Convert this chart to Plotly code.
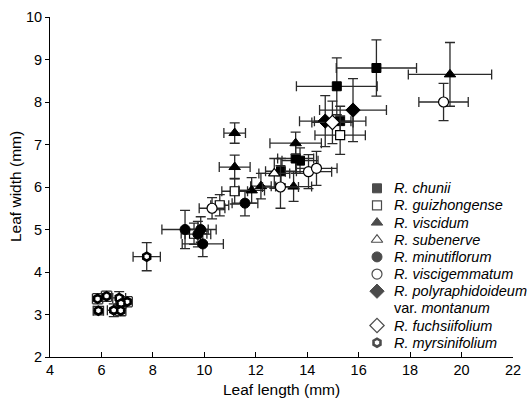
import plotly.graph_objects as go

# ---- data (leaf length, leaf width, with standard deviations) ----
chunii_x = [16.69, 15.15, 15.28, 13.55, 13.72, 12.98]
chunii_y = [8.80, 8.37, 7.55, 6.67, 6.62, 6.37]
chunii_xe = [1.56, 1.57, 1.0, 0.7, 0.7, 0.6]
chunii_ye = [0.66, 0.67, 0.35, 0.35, 0.3, 0.3]

guizh_x = [15.28, 11.18, 10.60, 9.60]
guizh_y = [7.22, 5.90, 5.57, 4.90]
guizh_xe = [0.98, 0.5, 0.35, 0.5]
guizh_ye = [0.45, 0.3, 0.25, 0.25]

visc_x = [19.55, 11.18, 13.55, 11.18, 13.47, 12.20, 11.84]
visc_y = [8.65, 7.27, 7.03, 6.47, 6.01, 6.02, 5.92]
visc_xe = [1.62, 0.42, 1.0, 0.6, 0.7, 0.4, 0.5]
visc_ye = [0.75, 0.24, 0.26, 0.28, 0.35, 0.3, 0.3]

suben_x = [12.72]
suben_y = [6.32]
suben_xe = [0.6]
suben_ye = [0.35]

minut_x = [11.58, 9.25, 9.86, 9.75, 9.94]
minut_y = [5.62, 5.00, 5.00, 4.89, 4.66]
minut_xe = [0.5, 0.9, 0.6, 0.5, 0.8]
minut_ye = [0.3, 0.45, 0.3, 0.3, 0.3]

viscig_x = [19.30, 14.05, 14.36, 12.96, 10.30]
viscig_y = [8.00, 6.36, 6.44, 6.00, 5.50]
viscig_xe = [0.96, 0.9, 0.8, 0.7, 0.5]
viscig_ye = [0.44, 0.4, 0.4, 0.5, 0.25]

poly_x = [15.78, 14.70]
poly_y = [7.81, 7.55]
poly_xe = [1.3, 1.0]
poly_ye = [0.74, 0.6]

fuchs_x = [14.98]
fuchs_y = [7.52]
fuchs_xe = [0.8]
fuchs_ye = [0.5]

myrs_x = [7.76, 5.85, 6.20, 6.69, 7.00, 6.76, 5.88, 6.48, 6.75]
myrs_y = [4.36, 3.37, 3.43, 3.39, 3.30, 3.26, 3.09, 3.10, 3.09]
myrs_xe = [0.53, 0.2, 0.2, 0.25, 0.2, 0.2, 0.2, 0.25, 0.2]
myrs_ye = [0.33, 0.12, 0.12, 0.15, 0.12, 0.12, 0.1, 0.15, 0.12]

x_ticks = [4, 6, 8, 10, 12, 14, 16, 18, 20, 22]
y_ticks = [2, 3, 4, 5, 6, 7, 8, 9, 10]

FONT = "Arial, Liberation Sans, sans-serif"
EB = "#2a2a2a"

# legend label lines, x, y, xerr, yerr, symbol, fill, line width, size
series = [
    (["<i>R. chunii</i>"], chunii_x, chunii_y, chunii_xe, chunii_ye, "square", "black", 1, 9),
    (["<i>R. guizhongense</i>"], guizh_x, guizh_y, guizh_xe, guizh_ye, "square", "white", 1.2, 9),
    (["<i>R. viscidum</i>"], visc_x, visc_y, visc_xe, visc_ye, "triangle-up", "black", 1, 10),
    (["<i>R. subenerve</i>"], suben_x, suben_y, suben_xe, suben_ye, "triangle-up", "white", 1.2, 10),
    (["<i>R. minutiflorum</i>"], minut_x, minut_y, minut_xe, minut_ye, "circle", "black", 1, 10),
    (["<i>R. viscigemmatum</i>"], viscig_x, viscig_y, viscig_xe, viscig_ye, "circle", "white", 1.2, 10),
    (["<i>R. polyraphidoideum</i>", "var. <i>montanum</i>"], poly_x, poly_y, poly_xe, poly_ye, "diamond", "black", 1, 11),
    (["<i>R. fuchsiifolium</i>"], fuchs_x, fuchs_y, fuchs_xe, fuchs_ye, "diamond", "white", 1.2, 11),
    (["<i>R. myrsinifolium</i>"], myrs_x, myrs_y, myrs_xe, myrs_ye, "hexagon", "white", 2.6, 8),
]

fig = go.Figure()
for lines, xs, ys, xe, ye, sym, fill, lw, sz in series:
    fig.add_trace(go.Scatter(
        x=xs, y=ys, mode="markers", name=" ".join(lines), showlegend=False,
        marker=dict(symbol=sym, color=fill, size=sz, line=dict(color="black", width=lw)),
        error_x=dict(type="data", array=xe, visible=True, color=EB, thickness=1.3, width=5),
        error_y=dict(type="data", array=ye, visible=True, color=EB, thickness=1.3, width=5),
    ))

# ---- hand-made legend (plot-fraction coordinates on an overlay axis) ----
L, R, T, B = 50, 19, 17, 41
W, H = 532, 398
pw, ph = W - L - R, H - T - B
row0, rowstep = 188.3, 17.15
mk_px, tx_px = 377, 393
LEG_FONT = 14.5
row = 0
leg_x, leg_y, leg_sym, leg_fill, leg_lw, leg_sz = [], [], [], [], [], []
annotations = []
for lines, xs, ys, xe, ye, sym, fill, lw, sz in series:
    ypx = row0 + row * rowstep
    leg_x.append((mk_px - L) / pw)
    leg_y.append((H - B - ypx) / ph)
    leg_sym.append(sym); leg_fill.append(fill); leg_lw.append(lw); leg_sz.append(sz)
    for k, txt in enumerate(lines):
        ypx_k = row0 + (row + k) * rowstep
        annotations.append(dict(
            x=(tx_px - L) / pw, y=(H - B - ypx_k) / ph, xref="paper", yref="paper",
            text=txt, showarrow=False, xanchor="left", yanchor="middle", borderpad=0,
            font=dict(family=FONT, size=LEG_FONT, color="black")))
    row += len(lines)

# axis titles as annotations (exact placement)
annotations.append(dict(
    x=0.5, y=(H - B - 389) / ph, xref="paper", yref="paper", text="Leaf length (mm)",
    showarrow=False, xanchor="center", yanchor="middle", borderpad=0,
    font=dict(family=FONT, size=15.5, color="black")))
annotations.append(dict(
    x=(15 - L) / pw, y=0.5, xref="paper", yref="paper", text="Leaf width (mm)",
    showarrow=False, xanchor="center", yanchor="middle", textangle=-90, borderpad=0,
    font=dict(family=FONT, size=15.5, color="black")))

fig.add_trace(go.Scatter(
    x=leg_x, y=leg_y, mode="markers", xaxis="x2", yaxis="y2", showlegend=False,
    hoverinfo="skip",
    marker=dict(symbol=leg_sym, color=leg_fill, size=leg_sz,
                line=dict(color="black", width=leg_lw)),
))

fig.update_layout(
    width=W, height=H,
    margin=dict(l=L, r=R, t=T, b=B),
    paper_bgcolor="white", plot_bgcolor="white",
    font=dict(family=FONT, size=14.5, color="black"),
    showlegend=False,
    annotations=annotations,
    xaxis=dict(range=[4, 22], tickvals=x_ticks, ticktext=[str(v) for v in x_ticks],
               showline=True, linecolor="black", linewidth=1, mirror=False,
               ticks="inside", ticklen=5, tickcolor="black", showgrid=False, zeroline=False,
               tickfont=dict(size=14.5), automargin=False),
    yaxis=dict(range=[2, 10], tickvals=y_ticks, ticktext=[str(v) for v in y_ticks],
               showline=True, linecolor="black", linewidth=1, mirror=False,
               ticks="outside", ticklen=4, tickcolor="black", showgrid=False, zeroline=False,
               tickfont=dict(size=14.5), automargin=False),
    xaxis2=dict(overlaying="x", range=[0, 1], visible=False, fixedrange=True),
    yaxis2=dict(overlaying="y", range=[0, 1], visible=False, fixedrange=True),
)

fig.write_html("out.html",
               config={"displayModeBar": False, "staticPlot": True},
               post_script="document.body.style.margin='0px';document.body.style.overflow='hidden';")
